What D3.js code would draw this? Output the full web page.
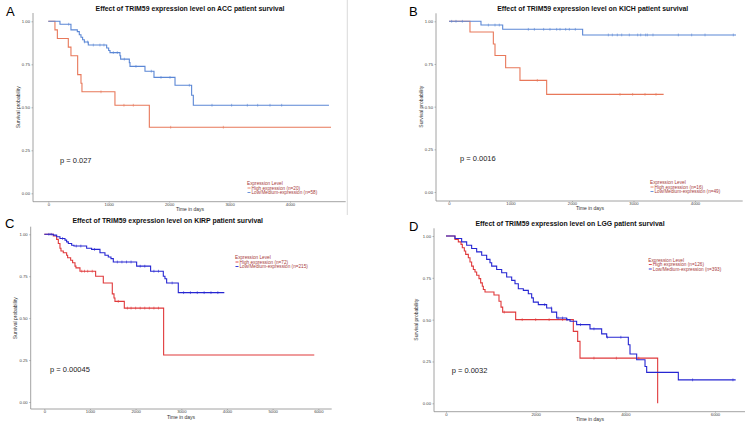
<!DOCTYPE html>
<html><head><meta charset="utf-8">
<script src="https://cdn.jsdelivr.net/npm/d3@7"></script>
<style>body{margin:0;background:#fff}svg{display:block}text{font-family:"Liberation Sans",Arial,sans-serif}</style>
</head><body><svg id="c" width="750" height="422"></svg>
<script>
// ---------- DATA ----------
const panelLetters = ["A","B","C","D"];
const cancerTypes = ["ACC","KICH","KIRP","LGG"];
const pValues = ["p = 0.027","p = 0.0016","p = 0.00045","p = 0.0032"];
const highN = [20,16,72,126];
const lowN = [58,49,215,393];
const ticksAB = [0,1000,2000,3000,4000];
const ticksC = [0,1000,2000,3000,4000,5000,6000];
const ticksD = [0,2000,4000,6000];
const yTicks = [0,0.25,0.5,0.75,1];

// ACC
const accHighT = [0,110,150,331,375,486,541,557,1103,1672,4679];
const accHighS = [1,0.95,0.90,0.85,0.80,0.69,0.64,0.59,0.512,0.384,0.384];
const accHighCens = [872,1252,1407,2025,2897];
const accLowT = [0,193,375,480,513,541,568,596,662,966,999,1021,1186,1197,1341,1352,1600,1749,2097,2372,2400,4645];
const accLowS = [1,0.983,0.95,0.94,0.922,0.907,0.893,0.88,0.862,0.845,0.83,0.818,0.80,0.78,0.76,0.738,0.71,0.674,0.628,0.57,0.512,0.512];
const accLowCens = [337,601,651,745,855,921,1076,1142,1258,1451,1705,1865,2014,2334,2709,3034,3294,3465,3669,3862];

// KICH
const kichHighT = [0,341,721,748,921,1154,1588,3490];
const kichHighS = [1,0.9375,0.867,0.80,0.728,0.654,0.572,0.572];
const kichHighCens = [1436,2780,2986,3187,3366];
const kichLowT = [0,520,873,2173,4667];
const kichLowS = [1,0.978,0.953,0.92,0.92];
const kichLowCens = [43,114,217,640,748,818,1290,1388,1539,1642,1751,1805,1897,1957,2054,2591,2656,2737,2808,2932,3068,3117,3198,3225,3317,3729,3946,4163,4623];

// KIRP
const kirpHighT = [0,197,270,307,343,365,416,489,511,577,620,672,693,781,1124,1292,1489,1526,1547,1752,2613,5912];
const kirpHighS = [1,0.99,0.97,0.945,0.917,0.90,0.89,0.875,0.86,0.845,0.83,0.81,0.80,0.78,0.75,0.71,0.645,0.62,0.60,0.56,0.28,0.28];
const kirpHighCens = [820,880,950,1050,1620,1820,1900,2000,2100,2200,2300,2400,2500];
const kirpLowT = [0,197,270,343,453,489,526,599,650,927,1036,1219,1328,1401,1460,1511,2022,2328,2606,2642,2679,2934,3942];
const kirpLowS = [1,0.995,0.985,0.975,0.965,0.955,0.945,0.935,0.93,0.917,0.91,0.89,0.875,0.865,0.855,0.835,0.81,0.78,0.75,0.735,0.71,0.652,0.652];
const kirpLowCens = [100,150,400,700,800,1100,1600,1700,1800,1900,2100,2200,2400,2500,2800,3050,3200,3350,3500,3650,3800];

// LGG
const lggHighT = [0,200,275,335,364,409,439,498,535,572,610,647,684,736,773,810,833,870,1070,1182,1227,1264,1554,2840,2937,2989,4721];
const lggHighS = [1,0.98,0.965,0.95,0.93,0.91,0.89,0.87,0.845,0.82,0.80,0.785,0.765,0.745,0.72,0.70,0.68,0.665,0.647,0.61,0.575,0.545,0.50,0.43,0.37,0.27,0.0];
const lggHighCens = [1300,1700,2000,2300,2600,3300,3800,4300];
const lggLowT = [0,200,349,461,572,684,796,907,981,1019,1130,1242,1353,1465,1539,1613,1725,1836,1911,1948,2059,2245,2357,2468,2691,2766,2914,3212,3472,3584,4067,4104,4253,4439,4476,5182,6461];
const lggLowS = [1,0.985,0.965,0.945,0.925,0.905,0.885,0.86,0.84,0.82,0.80,0.78,0.755,0.735,0.715,0.685,0.675,0.655,0.63,0.605,0.59,0.57,0.545,0.51,0.50,0.49,0.47,0.445,0.415,0.395,0.35,0.295,0.26,0.22,0.185,0.14,0.14];
const lggLowCens = [2200,2350,2500,2600,2700,3000,3300,3600,3900,5500,6400];

// ---------- LAYOUT ----------
const paletteAB = {high:"#E8785A", low:"#5B87D5"};
const paletteCD = {high:"#E0393B", low:"#2626D2"};
const panels = [
  {letter:0, hT:accHighT,hS:accHighS,hC:accHighCens,lT:accLowT,lS:accLowS,lC:accLowCens,
   xt:ticksAB, xd:[0,4000], xr:[48.3,290], yr:[193.3,21.3], ax:[33,345.7], ay:201.7, atop:13,
   title:[190,11.2], lt:[6,15.5], pv:[60,162.5], leg:[247,185], ylab:20, xlab:[190,211], pal:paletteAB},
  {letter:1, hT:kichHighT,hS:kichHighS,hC:kichHighCens,lT:kichLowT,lS:kichLowS,lC:kichLowCens,
   xt:ticksAB, xd:[0,4000], xr:[449,695], yr:[192,21.3], ax:[436,742.7], ay:201, atop:13.3,
   title:[592.7,11.2], lt:[409,15.5], pv:[460,160.5], leg:[650,184], ylab:423, xlab:[590,210], pal:paletteAB},
  {letter:2, hT:kirpHighT,hS:kirpHighS,hC:kirpHighCens,lT:kirpLowT,lS:kirpLowS,lC:kirpLowCens,
   xt:ticksC, xd:[0,6000], xr:[44.3,318.3], yr:[402,234.3], ax:[30.7,331.7], ay:409, atop:226.7,
   title:[167.7,223.3], lt:[5,227.5], pv:[50,372], leg:[235,259], ylab:16.5, xlab:[181,419], pal:paletteCD},
  {letter:3, hT:lggHighT,hS:lggHighS,hC:lggHighCens,lT:lggLowT,lS:lggLowS,lC:lggLowCens,
   xt:ticksD, xd:[0,6000], xr:[446,715], yr:[403.3,236], ax:[434,745], ay:411.7, atop:228.3,
   title:[570,226.3], lt:[409,230.5], pv:[451.7,373], leg:[648.3,261.5], ylab:418, xlab:[590,421], pal:paletteCD}
];

const svg = d3.select("#c");
svg.append("rect").attr("width",750).attr("height",422).attr("fill","#fff");
// panel separator
svg.append("line").attr("x1",347.3).attr("x2",347.3).attr("y1",0).attr("y2",215)
   .attr("stroke","#cfcfcf").attr("stroke-width",0.8);

function survAt(T,S,t){let v=S[0];for(let i=0;i<T.length;i++){if(T[i]<=t)v=S[i];}return v;}

panels.forEach(p=>{
  const g = svg.append("g");
  const x = d3.scaleLinear().domain(p.xd).range(p.xr);
  const y = d3.scaleLinear().domain([0,1]).range(p.yr);
  // axes
  g.append("line").attr("x1",p.ax[0]).attr("x2",p.ax[1]).attr("y1",p.ay).attr("y2",p.ay).attr("stroke","#8a8a8a").attr("stroke-width",0.8);
  g.append("line").attr("x1",p.ax[0]).attr("x2",p.ax[0]).attr("y1",p.atop).attr("y2",p.ay).attr("stroke","#8a8a8a").attr("stroke-width",0.8);
  const xa = g.append("g").attr("transform",`translate(0,${p.ay})`)
    .call(d3.axisBottom(x).tickValues(p.xt).tickSize(1).tickPadding(0.5).tickFormat(d3.format("d")));
  const ya = g.append("g").attr("transform",`translate(${p.ax[0]},0)`)
    .call(d3.axisLeft(y).tickValues(yTicks).tickSize(1.5).tickPadding(1.5).tickFormat(d3.format(".2f")));
  [xa,ya].forEach(a=>{a.select(".domain").remove();
    a.selectAll("line").attr("stroke","#8a8a8a").attr("stroke-width",0.6);
    a.selectAll("text").attr("font-size",4.2).attr("fill","#444").attr("font-family","Liberation Sans, Arial, sans-serif");});
  // labels
  g.append("text").attr("x",p.xlab[0]).attr("y",p.xlab[1]).attr("text-anchor","middle").attr("font-size",5).attr("fill","#333").text("Time in days");
  g.append("text").attr("transform",`translate(${p.ylab},${(p.yr[0]+p.yr[1])/2}) rotate(-90)`).attr("text-anchor","middle").attr("font-size",5).attr("fill","#333").text("Survival probability");
  g.append("text").attr("x",p.title[0]).attr("y",p.title[1]).attr("text-anchor","middle").attr("font-size",6.9).attr("font-weight","bold").attr("fill","#111")
    .text(`Effect of TRIM59 expression level on ${cancerTypes[p.letter]} patient survival`);
  g.append("text").attr("x",p.lt[0]).attr("y",p.lt[1]).attr("font-size",13).attr("fill","#000").text(panelLetters[p.letter]);
  g.append("text").attr("x",p.pv[0]).attr("y",p.pv[1]).attr("font-size",7.5).attr("fill","#222").text(pValues[p.letter]);
  // curves
  const line = d3.line().x(d=>x(d[0])).y(d=>y(d[1])).curve(d3.curveStepAfter);
  const series = [
    {T:p.hT,S:p.hS,C:p.hC,col:p.pal.high},
    {T:p.lT,S:p.lS,C:p.lC,col:p.pal.low}
  ];
  series.forEach(s=>{
    g.append("path").attr("d",line(s.T.map((t,i)=>[t,s.S[i]]))).attr("fill","none").attr("stroke",s.col).attr("stroke-width",1.1);
    g.selectAll(null).data(s.C).enter().append("line")
      .attr("x1",d=>x(d)).attr("x2",d=>x(d))
      .attr("y1",d=>y(survAt(s.T,s.S,d))-1.4).attr("y2",d=>y(survAt(s.T,s.S,d))+1.4)
      .attr("stroke",s.col).attr("stroke-width",0.6);
  });
  // legend
  const lg = g.append("g").attr("transform",`translate(${p.leg[0]},${p.leg[1]})`);
  lg.append("text").attr("x",0).attr("y",0).attr("font-size",4.7).attr("fill","#A83A3A").text("Expression Level");
  const items = [[`High expression (n=${highN[p.letter]})`,p.pal.high],[`Low/Medium-expression (n=${lowN[p.letter]})`,p.pal.low]];
  items.forEach((it,i)=>{
    const yy = 4.5*(i+1);
    lg.append("line").attr("x1",0.5).attr("x2",3.5).attr("y1",yy-1.5).attr("y2",yy-1.5).attr("stroke",it[1]).attr("stroke-width",0.9);
    lg.append("text").attr("x",4.5).attr("y",yy).attr("font-size",4.7).attr("fill","#A83A3A").text(it[0]);
  });
});
</script></body></html>
